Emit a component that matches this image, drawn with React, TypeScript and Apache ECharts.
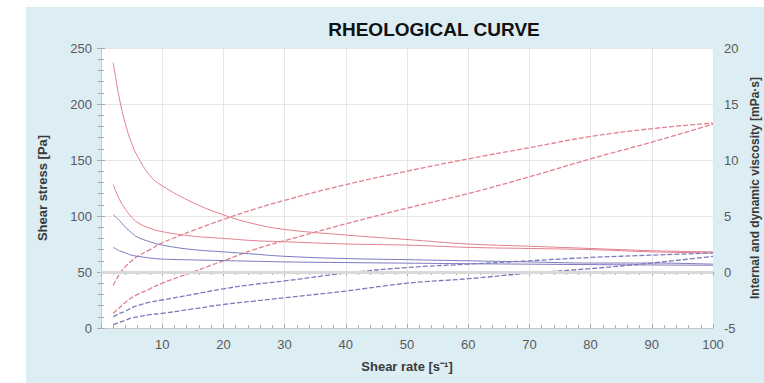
import React, { useEffect, useRef } from "react";
import * as echarts from "echarts";

const shearRate = [2, 3, 4, 5, 6, 8, 10, 15, 20, 25, 30, 40, 50, 60, 70, 80, 90, 100];

const redStressDown1 = [237, 205, 182, 165, 153, 136, 127, 112, 101, 93, 88, 83, 79, 75, 73, 71, 69, 68];
const redStressDown2 = [128, 115, 106, 99, 94, 89, 86, 82, 80, 78, 77, 75, 74, 72, 71, 70, 68, 67];
const redStressUp1 = [38, 48, 55, 60, 64, 70, 76, 87, 97, 106, 114, 128, 140, 151, 161, 171, 178, 183];
const redStressUp2 = [13, 18, 23, 27, 30, 35, 40, 50, 60, 70, 78, 93, 107, 120, 135, 151, 166, 182];
const blueStressDown1 = [101, 96, 90, 85, 81, 77, 74, 70, 68, 66, 64, 62, 61, 60, 59, 58, 58, 57];
const blueStressDown2 = [72, 69, 67, 65, 64, 62.5, 61.5, 60.8, 60.2, 59.6, 59, 58.4, 57.9, 57.4, 57, 56.6, 56.3, 56];
const blueStressUp1 = [10, 13, 15, 18, 20, 23, 25, 30, 35, 39, 42, 49, 54, 57, 60, 63, 65, 67];
const blueStressUp2 = [3, 5, 7, 9, 10, 12, 13, 17, 21, 24, 27, 33, 40, 44, 49, 53, 58, 64];

const xTicks = [10, 20, 30, 40, 50, 60, 70, 80, 90, 100];
const leftTicks = [0, 50, 100, 150, 200, 250];
const rightTicks = [-5, 0, 5, 10, 15, 20];

const RED = "#e2808f";
const BLUE = "#7c7abb";
const FONT = "Liberation Sans, Arial, sans-serif";

function pairs(vals: number[]) {
  return shearRate.map((x, i) => [x, vals[i]]);
}

export default function App() {
  const ref = useRef<HTMLDivElement>(null);
  useEffect(() => {
    if (!ref.current) return;
    const chart = echarts.init(ref.current, null, { renderer: "svg" });
    const labelStyle = { color: "#5a5a5a", fontSize: 13, fontFamily: FONT };
    const nameStyle = { fontSize: 13, fontWeight: "bold", color: "#3a3a3a", fontFamily: FONT };
    const line = (name: string, vals: number[], color: string, dashed: boolean) => ({
      name,
      type: "line",
      data: pairs(vals),
      smooth: 0.4,
      showSymbol: false,
      lineStyle: { color, width: dashed ? 1.3 : 1, type: dashed ? [5, 2] : "solid" },
      z: 3,
    });
    const tickStyle = { inside: true, length: 4, lineStyle: { color: "#aaa" } };
    const minorStyle = { show: true, splitNumber: 5, length: 3, lineStyle: { color: "#aaa" } };
    chart.setOption({
      animation: false,
      backgroundColor: "#ffffff",
      graphic: [
        {
          type: "rect",
          left: 26,
          top: 7,
          shape: { width: 738, height: 376 },
          style: { fill: "#dcedf3" },
          z: -10,
          silent: true,
        },
      ],
      title: {
        text: "RHEOLOGICAL CURVE",
        left: 429,
        top: 15,
        textAlign: "center",
        textStyle: { fontSize: 19, fontWeight: "bold", color: "#111", fontFamily: FONT },
      },
      grid: {
        left: 101,
        right: 51,
        top: 48,
        bottom: 55,
        show: true,
        backgroundColor: "#ffffff",
        borderWidth: 0,
        outerBoundsMode: "none",
        containLabel: false,
      },
      xAxis: [
        {
          type: "value",
          min: 0,
          max: 100,
          interval: 10,
          name: "Shear rate [s\u207b\u00b9]",
          nameLocation: "middle",
          nameGap: 32,
          nameTextStyle: nameStyle,
          axisLine: { lineStyle: { color: "#c8c8c8" } },
          axisTick: tickStyle,
          minorTick: minorStyle,
          axisLabel: {
            ...labelStyle,
            margin: 10,
            formatter: (v: number) => (xTicks.includes(v) ? String(v) : ""),
          },
          splitLine: { show: true, lineStyle: { color: "#e6e6e6" } },
        },
        {
          type: "value",
          position: "top",
          min: 0,
          max: 100,
          interval: 10,
          axisLine: { show: true, lineStyle: { color: "#c8c8c8" } },
          axisTick: tickStyle,
          minorTick: minorStyle,
          axisLabel: { show: false },
          splitLine: { show: false },
        },
      ],
      yAxis: [
        {
          type: "value",
          min: 0,
          max: 250,
          interval: 50,
          name: "Shear stress [Pa]",
          nameLocation: "middle",
          nameGap: 52,
          nameTextStyle: nameStyle,
          axisLine: { show: true, lineStyle: { color: "#c8c8c8" } },
          axisTick: { show: true, ...tickStyle },
          minorTick: minorStyle,
          axisLabel: {
            ...labelStyle,
            margin: 9,
            formatter: (v: number) => (leftTicks.includes(v) ? String(v) : ""),
          },
          splitLine: { show: true, lineStyle: { color: "#e6e6e6" } },
        },
        {
          type: "value",
          position: "right",
          min: -5,
          max: 20,
          interval: 5,
          name: "Internal and dynamic viscosity [mPa\u00b7s]",
          nameLocation: "middle",
          nameGap: 35,
          nameTextStyle: { ...nameStyle, fontSize: 12 },
          axisLine: { show: true, lineStyle: { color: "#c8c8c8" } },
          axisTick: { show: true, ...tickStyle },
          minorTick: minorStyle,
          axisLabel: {
            ...labelStyle,
            margin: 11,
            formatter: (v: number) => (rightTicks.includes(v) ? String(v) : ""),
          },
          splitLine: { show: false },
        },
      ],
      series: [
        {
          name: "reference",
          type: "line",
          yAxisIndex: 1,
          data: [],
          markLine: {
            silent: true,
            symbol: "none",
            label: { show: false },
            lineStyle: { color: "#d9d9d9", width: 3, type: "solid" },
            data: [{ yAxis: 0 }],
          },
          z: 1,
        },
        line("Red down 1", redStressDown1, RED, false),
        line("Red down 2", redStressDown2, RED, false),
        line("Red up 1", redStressUp1, RED, true),
        line("Red up 2", redStressUp2, RED, true),
        line("Blue down 1", blueStressDown1, BLUE, false),
        line("Blue down 2", blueStressDown2, BLUE, false),
        line("Blue up 1", blueStressUp1, BLUE, true),
        line("Blue up 2", blueStressUp2, BLUE, true),
      ],
    });
    return () => chart.dispose();
  }, []);
  return (
    <div
      ref={ref}
      style={{ position: "fixed", left: 0, top: 0, width: 764, height: 383 }}
    />
  );
}
